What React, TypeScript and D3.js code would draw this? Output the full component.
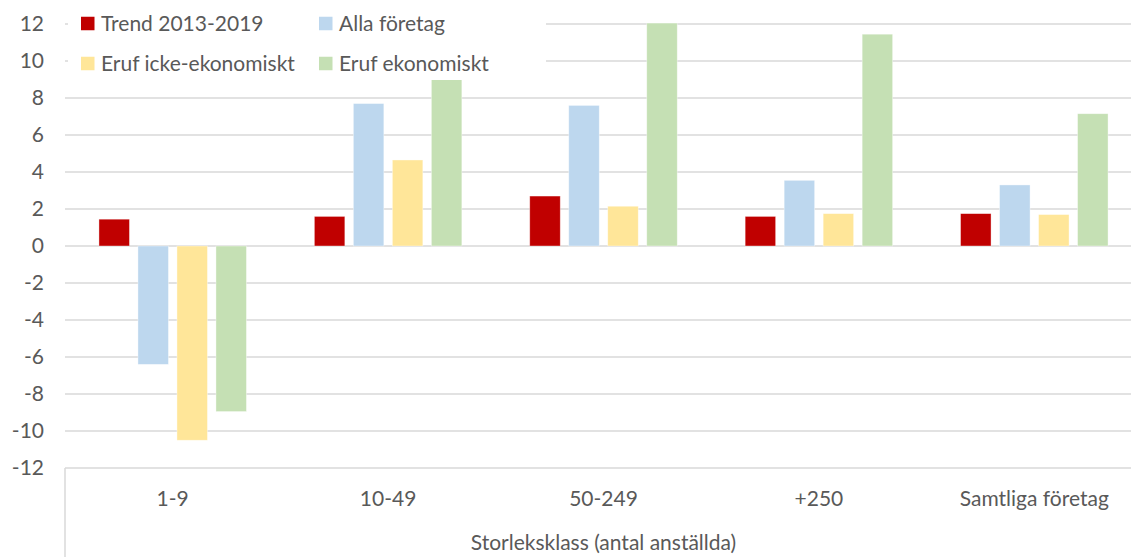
import { useEffect, useRef } from "react";
import * as d3 from "d3";

const categories = ["1-9", "10-49", "50-249", "+250", "Samtliga företag"];
const seriesNames = [
  "Trend 2013-2019",
  "Alla företag",
  "Eruf icke-ekonomiskt",
  "Eruf ekonomiskt",
];
const trend = [1.45, 1.6, 2.7, 1.6, 1.75];
const allaForetag = [-6.4, 7.7, 7.6, 3.55, 3.3];
const erufIckeEkonomiskt = [-10.5, 4.65, 2.15, 1.75, 1.7];
const erufEkonomiskt = [-8.95, 9.15, 12.05, 11.45, 7.15];
const yTicks = [-12, -10, -8, -6, -4, -2, 0, 2, 4, 6, 8, 10, 12];
const colors = ["#C00000", "#BDD7EE", "#FFE699", "#C5E0B4"];
const axisTitle = "Storleksklass (antal anställda)";

const W = 1131;
const H = 557;
const FONT = "Lato, 'Open Sans', sans-serif";
const FS = 21;
const TEXT = "#595959";

export default function App() {
  const svgRef = useRef<SVGSVGElement | null>(null);

  useEffect(() => {
    if (!svgRef.current) return;
    const values = [trend, allaForetag, erufIckeEkonomiskt, erufEkonomiskt];

    const svg = d3.select(svgRef.current);
    svg.selectAll("*").remove();

    const left = 65;
    const right = 1142;
    const y = d3.scaleLinear().domain([-12, 12]).range([468, 24]);

    const x0 = d3.scaleBand<string>().domain(categories).range([left, right]);
    const groupW = 147.5;
    const x1 = d3
      .scaleBand<number>()
      .domain(d3.range(seriesNames.length))
      .range([0, groupW])
      .paddingInner(0.218)
      .paddingOuter(0);
    const offset = (x0.bandwidth() - groupW) / 2;

    // gridlines
    svg
      .append("g")
      .selectAll("line")
      .data(yTicks)
      .enter()
      .append("line")
      .attr("x1", left)
      .attr("x2", W)
      .attr("y1", (d) => y(d))
      .attr("y2", (d) => y(d))
      .attr("stroke", "#D9D9D9")
      .attr("stroke-width", 1.5);

    // category axis box
    svg
      .append("line")
      .attr("x1", left)
      .attr("x2", left)
      .attr("y1", y(-12))
      .attr("y2", H)
      .attr("stroke", "#D9D9D9")
      .attr("stroke-width", 1.5);

    // y tick labels
    svg
      .append("g")
      .selectAll("text")
      .data(yTicks)
      .enter()
      .append("text")
      .attr("x", 44)
      .attr("y", (d) => y(d))
      .attr("dy", "0.35em")
      .attr("text-anchor", "end")
      .attr("font-family", FONT)
      .attr("font-size", FS)
      .attr("fill", TEXT)
      .text((d) => String(d));

    // bars
    values.forEach((arr, si) => {
      svg
        .append("g")
        .selectAll("rect")
        .data(arr)
        .enter()
        .append("rect")
        .attr("x", (_, i) => x0(categories[i])! + offset + x1(si)!)
        .attr("width", x1.bandwidth())
        .attr("y", (d) => y(Math.max(0, d)))
        .attr("height", (d) => Math.abs(y(d) - y(0)))
        .attr("fill", colors[si])
        .attr("stroke", "#ffffff")
        .attr("stroke-opacity", 0.5)
        .attr("stroke-width", 0.75);
    });

    // category labels
    svg
      .append("g")
      .selectAll("text")
      .data(categories)
      .enter()
      .append("text")
      .attr("x", (d) => x0(d)! + x0.bandwidth() / 2)
      .attr("y", 506)
      .attr("text-anchor", "middle")
      .attr("font-family", FONT)
      .attr("font-size", FS)
      .attr("fill", TEXT)
      .text((d) => d);

    svg
      .append("text")
      .attr("x", (left + right) / 2)
      .attr("y", 550)
      .attr("text-anchor", "middle")
      .attr("font-family", FONT)
      .attr("font-size", FS)
      .attr("fill", TEXT)
      .text(axisTitle);

    // legend
    const legend = svg.append("g");
    legend
      .append("rect")
      .attr("x", 68)
      .attr("y", 4)
      .attr("width", 478)
      .attr("height", 76)
      .attr("fill", "#ffffff");
    const legendPos = [
      { x: 81, y: 23.5 },
      { x: 319, y: 23.5 },
      { x: 81, y: 63.5 },
      { x: 319, y: 63.5 },
    ];
    seriesNames.forEach((name, i) => {
      const p = legendPos[i];
      legend
        .append("rect")
        .attr("x", p.x)
        .attr("y", p.y - 6.75)
        .attr("width", 13.5)
        .attr("height", 13.5)
        .attr("fill", colors[i]);
      legend
        .append("text")
        .attr("x", p.x + 20)
        .attr("y", p.y)
        .attr("dy", "0.35em")
        .attr("font-family", FONT)
        .attr("font-size", FS)
        .attr("fill", TEXT)
        .text(name);
    });
  }, []);

  return (
    <svg
      ref={svgRef}
      width={W}
      height={H}
      style={{ position: "absolute", left: 0, top: 0, background: "#fff" }}
    />
  );
}
